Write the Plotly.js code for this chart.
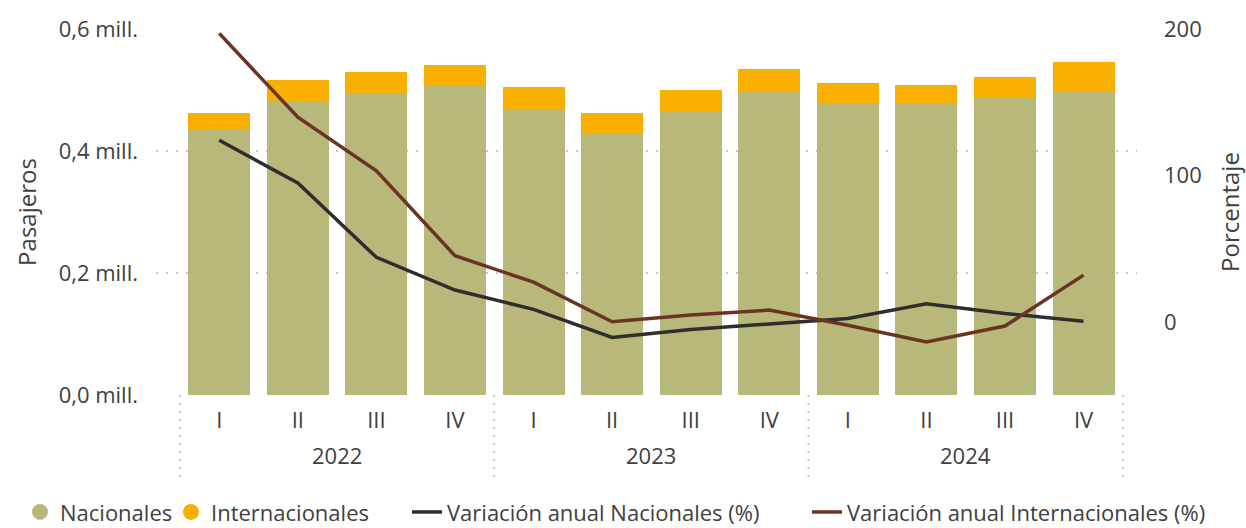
<!DOCTYPE html>
<html>
<head>
<meta charset="utf-8">
<script src="https://cdn.plot.ly/plotly-3.0.1.min.js"></script>
<style>
  html, body { margin: 0; padding: 0; background: #ffffff; }
  #chart { width: 1246px; height: 528px; }
</style>
</head>
<body>
<div id="chart"></div>
<script>
// Data (passengers in millions; annual variation in %)
const years = ["2022","2022","2022","2022","2023","2023","2023","2023","2024","2024","2024","2024"];
const quarters = ["I","II","III","IV","I","II","III","IV","I","II","III","IV"];
const nacionales = [0.435, 0.482, 0.495, 0.507, 0.469, 0.428, 0.464, 0.497, 0.478, 0.479, 0.487, 0.497];
const internacionales = [0.027, 0.034, 0.035, 0.034, 0.036, 0.034, 0.036, 0.037, 0.033, 0.029, 0.034, 0.049];
const varNacionales = [124.0, 94.8, 44.0, 21.7, 8.5, -10.7, -5.2, -1.6, 2.3, 12.3, 5.7, 0.3];
const varInternacionales = [197.0, 139.7, 103.2, 45.1, 27.1, 0.0, 4.6, 8.0, -2.3, -13.7, -2.9, 31.9];
const leftTickVals = [0, 0.2, 0.4, 0.6];
const leftTickText = ["0,0 mill.", "0,2 mill.", "0,4 mill.", "0,6 mill."];
const rightTickVals = [0, 100, 200];

const fontFamily = "'Open Sans', 'Noto Sans', sans-serif";
const textColor = "#404040";
const colNac = "#B8B87A", colInt = "#F9AF00", colVN = "#2E2E2E", colVI = "#6B3322";

// category keys (unique), labelled with the quarter
const xKeys = years.map((y, i) => y + " " + quarters[i]);

// year groups: first / last index of each year
const uniqueYears = [...new Set(years)];
const yearGroups = uniqueYears.map(y => {
  const first = years.indexOf(y), last = years.lastIndexOf(y);
  return {year: y, first: first, last: last};
});

const traces = [
  {type: "bar", name: "Nacionales", x: xKeys, y: nacionales,
   marker: {color: colNac}, yaxis: "y", showlegend: false},
  {type: "bar", name: "Internacionales", x: xKeys, y: internacionales,
   marker: {color: colInt}, yaxis: "y", showlegend: false},
  {type: "scatter", mode: "lines", name: "Variación anual Nacionales (%)",
   x: xKeys, y: varNacionales, yaxis: "y2", showlegend: false,
   line: {color: colVN, width: 3.5}},
  {type: "scatter", mode: "lines", name: "Variación anual Internacionales (%)",
   x: xKeys, y: varInternacionales, yaxis: "y2", showlegend: false,
   line: {color: colVI, width: 3.5}},
  // legend entries (circle symbols for the bar series, as in the reference)
  {type: "scatter", mode: "markers", name: "Nacionales", x: [null], y: [null],
   marker: {color: colNac, size: 20, symbol: "circle"}, showlegend: true, legend: "legend"},
  {type: "scatter", mode: "markers", name: "Internacionales", x: [null], y: [null],
   marker: {color: colInt, size: 20, symbol: "circle"}, showlegend: true, legend: "legend2"},
  {type: "scatter", mode: "lines", name: "Variación anual Nacionales (%)", x: [null], y: [null],
   line: {color: colVN, width: 3.5}, showlegend: true, legend: "legend3"},
  {type: "scatter", mode: "lines", name: "Variación anual Internacionales (%)", x: [null], y: [null],
   line: {color: colVI, width: 3.5}, showlegend: true, legend: "legend4"}
];

// dotted group separators below the axis
const bounds = [yearGroups[0].first - 0.5].concat(yearGroups.map(g => g.last + 0.5));
const shapes = bounds.map(b => ({
  type: "line", xref: "x", yref: "paper",
  x0: b, x1: b, y0: 0, y1: -0.225,
  line: {color: "#C8C8C8", width: 2, dash: "2px,6px"}
}));

// year labels centred under each group
const annotations = yearGroups.map(g => ({
  xref: "x", yref: "paper", x: (g.first + g.last) / 2, y: -0.164,
  xanchor: "center", yanchor: "middle", showarrow: false,
  text: g.year, font: {size: 22, color: textColor}
}));

function legendAt(xpx) {
  return {
    orientation: "h", xref: "container", yref: "container",
    x: xpx / 1246, xanchor: "left", y: 0.03, yanchor: "middle",
    font: {size: 22, color: textColor}, itemwidth: 30,
    bgcolor: "rgba(0,0,0,0)", borderwidth: 0
  };
}

const layout = {
  width: 1246, height: 528,
  margin: {l: 156, r: 109, t: 29, b: 133},
  paper_bgcolor: "#ffffff", plot_bgcolor: "#ffffff",
  barmode: "stack", bargap: 0.21,
  font: {family: fontFamily, size: 22, color: textColor},
  showlegend: true,
  legend: legendAt(20),
  legend2: legendAt(171),
  legend3: legendAt(407),
  legend4: legendAt(807),
  xaxis: {
    type: "category",
    range: [-0.805, 11.68],
    tickvals: xKeys, ticktext: quarters,
    showgrid: false, zeroline: false, showline: false,
    ticks: "", tickfont: {size: 22, color: textColor},
    ticklabelstandoff: 10
  },
  yaxis: {
    range: [0, 0.6], tickvals: leftTickVals, ticktext: leftTickText,
    showgrid: true, gridcolor: "#C8C8C8", griddash: "2px,8px", gridwidth: 2,
    zeroline: false, showline: false, ticks: "",
    tickfont: {size: 22, color: textColor},
    ticklabelstandoff: 17,
    title: {text: "Pasajeros", font: {size: 24, color: textColor}, standoff: 15}
  },
  yaxis2: {
    overlaying: "y", side: "right",
    range: [-50, 200], tickvals: rightTickVals,
    showgrid: false, zeroline: false, showline: false, ticks: "",
    tickfont: {size: 22, color: textColor},
    ticklabelstandoff: 26,
    title: {text: "Porcentaje", font: {size: 24, color: textColor}, standoff: 22}
  },
  shapes: shapes,
  annotations: annotations
};

Plotly.newPlot("chart", traces, layout, {staticPlot: true, displayModeBar: false});
</script>
</body>
</html>
